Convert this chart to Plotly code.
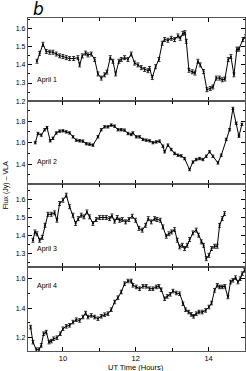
import plotly.graph_objects as go
from plotly.subplots import make_subplots

# ---- data (UT hours, flux Jy) ----
t1 = [9.286, 9.359, 9.451, 9.542, 9.634, 9.725, 9.817, 9.908, 10.0, 10.092, 10.183, 10.293,
      10.412, 10.458, 10.531, 10.622, 10.686, 10.778, 10.870, 10.961, 11.053, 11.144, 11.208,
      11.300, 11.373, 11.446, 11.538, 11.602, 11.693, 11.785, 11.876, 11.968, 12.059, 12.151,
      12.243, 12.334, 12.380, 12.453, 12.545, 12.636, 12.728, 12.792, 12.883, 12.975, 13.066,
      13.158, 13.222, 13.295, 13.350, 13.387, 13.460, 13.551, 13.625, 13.707, 13.771, 13.863,
      13.954, 14.046, 14.119, 14.211, 14.302, 14.375, 14.448, 14.540, 14.613, 14.696, 14.778,
      14.833, 14.943, 15.016]
f1 = [1.42, 1.464, 1.514, 1.474, 1.47, 1.47, 1.46, 1.45, 1.446, 1.44, 1.435, 1.435,
      1.44, 1.40, 1.45, 1.465, 1.455, 1.46, 1.43, 1.35, 1.327, 1.345, 1.36,
      1.44, 1.42, 1.35, 1.42, 1.43, 1.44, 1.43, 1.46, 1.41, 1.40, 1.385,
      1.375, 1.368, 1.38, 1.33, 1.39, 1.43, 1.52, 1.54, 1.536, 1.547, 1.54,
      1.56, 1.547, 1.574, 1.578, 1.53, 1.37, 1.362, 1.355, 1.42, 1.40, 1.363,
      1.263, 1.27, 1.278, 1.327, 1.327, 1.318, 1.322, 1.43, 1.446, 1.345, 1.487,
      1.487, 1.54, 1.556]

t2 = [9.240, 9.314, 9.405, 9.497, 9.561, 9.652, 9.725, 9.817, 9.908, 10.0, 10.092, 10.183,
      10.275, 10.366, 10.458, 10.549, 10.641, 10.732, 10.824, 10.961, 11.053, 11.144, 11.236,
      11.327, 11.419, 11.510, 11.602, 11.693, 11.785, 11.876, 11.922, 12.014, 12.105, 12.197,
      12.288, 12.380, 12.471, 12.563, 12.654, 12.746, 12.792, 12.883, 12.975, 13.066, 13.158,
      13.249, 13.341, 13.478, 13.570, 13.661, 13.753, 13.844, 13.936, 14.027, 14.119, 14.256,
      14.348, 14.485, 14.577, 14.668, 14.760, 14.833, 14.915]
f2 = [1.60, 1.685, 1.67, 1.72, 1.74, 1.617, 1.64, 1.69, 1.707, 1.71, 1.70, 1.69,
      1.654, 1.623, 1.617, 1.614, 1.59, 1.586, 1.577, 1.654, 1.72, 1.747, 1.747,
      1.763, 1.753, 1.72, 1.72, 1.716, 1.685, 1.676, 1.69, 1.654, 1.654, 1.63,
      1.623, 1.617, 1.60, 1.607, 1.614, 1.567, 1.515, 1.577, 1.536, 1.50, 1.483,
      1.477, 1.452, 1.35, 1.42, 1.443, 1.452, 1.443, 1.474, 1.515, 1.474, 1.412,
      1.483, 1.63, 1.72, 1.918, 1.78, 1.66, 1.77]

t3 = [9.176, 9.231, 9.286, 9.359, 9.432, 9.506, 9.588, 9.680, 9.771, 9.835, 9.908, 10.0,
      10.092, 10.183, 10.275, 10.348, 10.421, 10.503, 10.577, 10.659, 10.732, 10.824, 10.915,
      11.007, 11.098, 11.190, 11.281, 11.346, 11.419, 11.492, 11.556, 11.629, 11.721, 11.812,
      11.904, 11.995, 12.087, 12.178, 12.270, 12.343, 12.426, 12.517, 12.581, 12.673, 12.746,
      12.838, 12.911, 12.984, 13.066, 13.140, 13.204, 13.277, 13.341, 13.414, 13.478, 13.570,
      13.661, 13.725, 13.799, 13.863, 13.936, 14.009, 14.082, 14.165, 14.238, 14.302, 14.375,
      14.439]
f3 = [1.374, 1.42, 1.41, 1.374, 1.39, 1.457, 1.518, 1.518, 1.526, 1.485, 1.578, 1.596,
      1.624, 1.56, 1.513, 1.467, 1.494, 1.513, 1.504, 1.531, 1.504, 1.467, 1.489,
      1.50, 1.50, 1.50, 1.494, 1.509, 1.48, 1.50, 1.485, 1.489, 1.476, 1.489,
      1.507, 1.485, 1.44, 1.43, 1.457, 1.494, 1.476, 1.494, 1.489, 1.485, 1.448,
      1.396, 1.41, 1.42, 1.433, 1.374, 1.337, 1.346, 1.328, 1.346, 1.378, 1.415,
      1.43, 1.402, 1.365, 1.346, 1.272, 1.29, 1.328, 1.341, 1.341, 1.457, 1.494,
      1.522]

t4 = [9.112, 9.176, 9.268, 9.341, 9.405, 9.469, 9.542, 9.616, 9.680, 9.744, 9.835, 9.927,
      10.0, 10.092, 10.183, 10.275, 10.366, 10.458, 10.549, 10.622, 10.686, 10.778, 10.870,
      10.961, 11.053, 11.144, 11.236, 11.327, 11.419, 11.510, 11.602, 11.693, 11.785, 11.876,
      11.922, 12.014, 12.105, 12.197, 12.288, 12.380, 12.471, 12.563, 12.636, 12.700, 12.792,
      12.865, 12.947, 13.021, 13.112, 13.204, 13.295, 13.368, 13.451, 13.524, 13.588, 13.661,
      13.735, 13.826, 13.918, 14.009, 14.082, 14.165, 14.238, 14.302, 14.375, 14.448, 14.531,
      14.604, 14.668, 14.741, 14.805, 14.870, 14.924, 14.989]
f4 = [1.272, 1.17, 1.119, 1.119, 1.148, 1.227, 1.238, 1.17, 1.177, 1.193, 1.20, 1.227,
      1.261, 1.277, 1.284, 1.306, 1.322, 1.317, 1.34, 1.367, 1.34, 1.351, 1.34,
      1.329, 1.345, 1.356, 1.363, 1.39, 1.442, 1.471, 1.51, 1.566, 1.584, 1.584,
      1.555, 1.544, 1.532, 1.548, 1.548, 1.532, 1.532, 1.544, 1.548, 1.525, 1.464,
      1.48, 1.494, 1.516, 1.503, 1.498, 1.43, 1.39, 1.374, 1.358, 1.345, 1.363,
      1.374, 1.374, 1.385, 1.408, 1.435, 1.521, 1.555, 1.544, 1.544, 1.548, 1.476,
      1.577, 1.589, 1.607, 1.577, 1.60, 1.634, 1.656]

errs = [0.011, 0.011, 0.011, 0.012]
labels = ["April 1", "April 2", "April 3", "April 4"]
yranges = [[1.2, 1.659], [1.214, 1.986], [1.224, 1.685], [1.11, 1.677]]
ydticks = [0.1, 0.2, 0.1, 0.2]
xtickvals = [10, 12, 14]
series = [(t1, f1), (t2, f2), (t3, f3), (t4, f4)]

W, H = 246.0, 371.0
ML, MR, MT, MB = 28, 1, 18, 20.4
PW, PH = W - ML - MR, H - MT - MB
bounds = [18, 101, 184, 267, 350.6]
ydomains = [[1 - (bounds[i + 1] - MT) / PH, 1 - (bounds[i] - MT) / PH] for i in range(4)]
ydomains[0][1] = 1.0
ydomains[3][0] = 0.0


def px(x):
    return (x - ML) / PW


def py(y):
    return 1 - (y - MT) / PH


fig = make_subplots(rows=4, cols=1, shared_xaxes=True, vertical_spacing=0)
FONT = "Liberation Sans"

for i, (t, f) in enumerate(series):
    fig.add_trace(go.Scatter(
        x=t, y=f, mode="lines+markers",
        line=dict(color="black", width=1),
        marker=dict(color="black", size=2),
        error_y=dict(type="constant", value=errs[i], color="black", thickness=0.8, width=1.5),
        showlegend=False, cliponaxis=True, hoverinfo="skip"), row=i + 1, col=1)
    yk = "yaxis" if i == 0 else f"yaxis{i+1}"
    xk = "xaxis" if i == 0 else f"xaxis{i+1}"
    fig.layout[yk].update(domain=ydomains[i], range=yranges[i], dtick=ydticks[i],
                          tick0=1.0, ticks="inside", ticklen=4, tickwidth=1,
                          tickcolor="black", showline=True, linecolor="#555",
                          linewidth=1.2, mirror="ticks", showgrid=False, zeroline=False,
                          automargin=False,
                          tickfont=dict(family=FONT, size=7, color="black"),
                          minor=dict(ticks="inside", ticklen=2, dtick=ydticks[i] / 2,
                                     tickcolor="black"))
    fig.layout[xk].update(domain=[0, 1], range=[9.04, 15.0], tickvals=xtickvals,
                          ticks="inside", ticklen=4, tickwidth=1, tickcolor="black",
                          showline=True, linecolor="#555", linewidth=1.2, mirror="ticks",
                          showgrid=False, zeroline=False, automargin=False,
                          showticklabels=(i == 3),
                          tickfont=dict(family=FONT, size=7.5, color="black"),
                          minor=dict(ticks="inside", ticklen=3, tickvals=[11, 13],
                                     tickcolor="black"))
    fig.add_annotation(text=labels[i], xref=f"x{i+1} domain" if i else "x domain",
                       yref=f"y{i+1} domain" if i else "y domain",
                       x=0.03, y=[0.25, 0.27, 0.22, 0.78][i], xanchor="left",
                       yanchor="middle", showarrow=False,
                       font=dict(family=FONT, size=7, color="black"))

fig.add_annotation(text="UT Time (Hours)", xref="paper", yref="paper",
                   x=px(136), y=py(367), showarrow=False, xanchor="center",
                   yanchor="middle", font=dict(family=FONT, size=7.5, color="black"))
fig.add_annotation(text="Flux (Jy) \u2013 VLA", xref="paper", yref="paper",
                   x=px(6), y=py(185), textangle=-90, showarrow=False,
                   xanchor="center", yanchor="middle",
                   font=dict(family=FONT, size=7, color="black"))
fig.add_annotation(text="<i>b</i>", xref="paper", yref="paper",
                   x=px(38), y=py(9), showarrow=False,
                   xanchor="center", yanchor="middle",
                   font=dict(family="DejaVu Sans", size=17, color="black"))

fig.update_layout(width=246, height=371, margin=dict(l=ML, r=MR, t=MT, b=MB),
                  paper_bgcolor="white", plot_bgcolor="white", hovermode=False)
fig.write_html("out.html", config={"displayModeBar": False, "staticPlot": True},
               post_script="document.body.style.margin='0';"
                           "document.body.style.overflow='hidden';")
